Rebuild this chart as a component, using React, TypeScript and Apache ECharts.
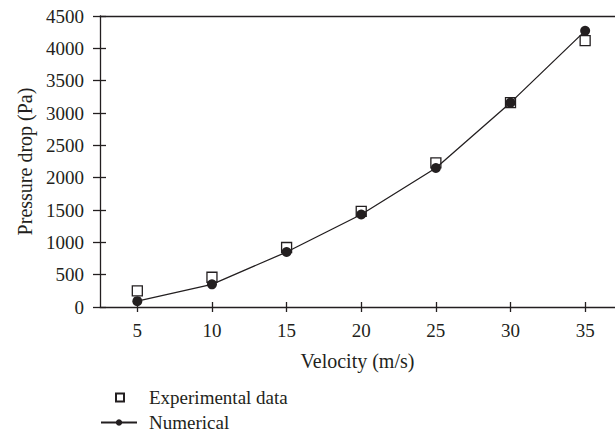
import React, { useEffect, useRef } from "react";
import * as echarts from "echarts";

const velocities = [5, 10, 15, 20, 25, 30, 35];
const experimental = [250, 460, 920, 1480, 2230, 3160, 4120];
const numerical = [90, 350, 850, 1430, 2150, 3160, 4270];
const xTicks = [5, 10, 15, 20, 25, 30, 35];

const FONT = "Liberation Serif";
const INK = "#231f20";

export default function App() {
  const ref = useRef<HTMLDivElement>(null);
  useEffect(() => {
    if (!ref.current) return;
    const chart = echarts.init(ref.current, undefined, { renderer: "svg" });
    const xBase = {
      type: "value" as const,
      min: 2.5,
      max: 37,
      gridIndex: 0,
      splitLine: { show: false },
    };
    const yBase = {
      type: "value" as const,
      min: 0,
      max: 4500,
      interval: 500,
      gridIndex: 0,
      splitLine: { show: false },
    };
    chart.setOption({
      animation: false,
      backgroundColor: "#ffffff",
      grid: { left: 100, top: 16, right: 0, bottom: 126, containLabel: false },
      xAxis: [
        {
          ...xBase,
          position: "bottom",
          name: "Velocity (m/s)",
          nameLocation: "middle",
          nameGap: 44,
          nameTextStyle: { fontFamily: FONT, fontSize: 20, color: INK },
          axisLine: { show: true, lineStyle: { color: INK, width: 1.3 } },
          axisTick: {
            show: true,
            inside: false,
            length: 5,
            customValues: xTicks,
            lineStyle: { color: INK, width: 1.3 },
          },
          axisLabel: {
            show: true,
            customValues: xTicks,
            margin: 14,
            fontFamily: FONT,
            fontSize: 19,
            color: INK,
            formatter: (v: number) => String(v),
          },
        },
        {
          ...xBase,
          position: "bottom",
          axisLine: { show: false },
          axisTick: {
            show: true,
            inside: true,
            length: 5,
            customValues: xTicks,
            lineStyle: { color: INK, width: 1.3 },
          },
          axisLabel: { show: false },
        },
        {
          ...xBase,
          position: "top",
          axisLine: { show: true, lineStyle: { color: INK, width: 1.3 } },
          axisTick: { show: false },
          axisLabel: { show: false },
        },
      ],
      yAxis: [
        {
          ...yBase,
          position: "left",
          name: "Pressure drop (Pa)",
          nameLocation: "middle",
          nameGap: 60,
          nameTextStyle: { fontFamily: FONT, fontSize: 20, color: INK },
          axisLine: { show: true, lineStyle: { color: INK, width: 1.3 } },
          axisTick: { show: true, inside: false, length: 7, lineStyle: { color: INK, width: 1.3 } },
          axisLabel: {
            show: true,
            margin: 16,
            fontFamily: FONT,
            fontSize: 19,
            color: INK,
            formatter: (v: number) => String(v),
          },
        },
        {
          ...yBase,
          position: "left",
          axisLine: { show: false },
          axisTick: { show: true, inside: true, length: 6, lineStyle: { color: INK, width: 1.3 } },
          axisLabel: { show: false },
        },
      ],
      legend: [
        {
          orient: "vertical",
          left: 110,
          top: 383,
          data: ["Experimental data"],
          itemWidth: 8,
          itemHeight: 8,
          textStyle: { fontFamily: FONT, fontSize: 19, color: INK, padding: [0, 0, 0, 20] },
        },
        {
          orient: "vertical",
          left: 95,
          top: 408,
          data: ["Numerical"],
          itemWidth: 36,
          itemHeight: 8,
          textStyle: { fontFamily: FONT, fontSize: 19, color: INK, padding: [0, 0, 0, 7] },
        },
      ],
      series: [
        {
          name: "Experimental data",
          type: "scatter",
          xAxisIndex: 0,
          yAxisIndex: 0,
          symbol: "rect",
          symbolSize: 10,
          itemStyle: { color: "#ffffff", borderColor: INK, borderWidth: 1.3, opacity: 1 },
          data: velocities.map((v, i) => [v, experimental[i]]),
          z: 2,
        },
        {
          name: "Numerical",
          type: "line",
          xAxisIndex: 0,
          yAxisIndex: 0,
          symbol: "circle",
          symbolSize: 10,
          showSymbol: true,
          lineStyle: { color: INK, width: 1.3 },
          itemStyle: { color: INK, borderColor: INK, borderWidth: 0 },
          data: velocities.map((v, i) => [v, numerical[i]]),
          z: 3,
        },
      ],
    });
    return () => chart.dispose();
  }, []);
  return <div ref={ref} style={{ width: 615, height: 433, position: "absolute", left: 0, top: 0 }} />;
}
